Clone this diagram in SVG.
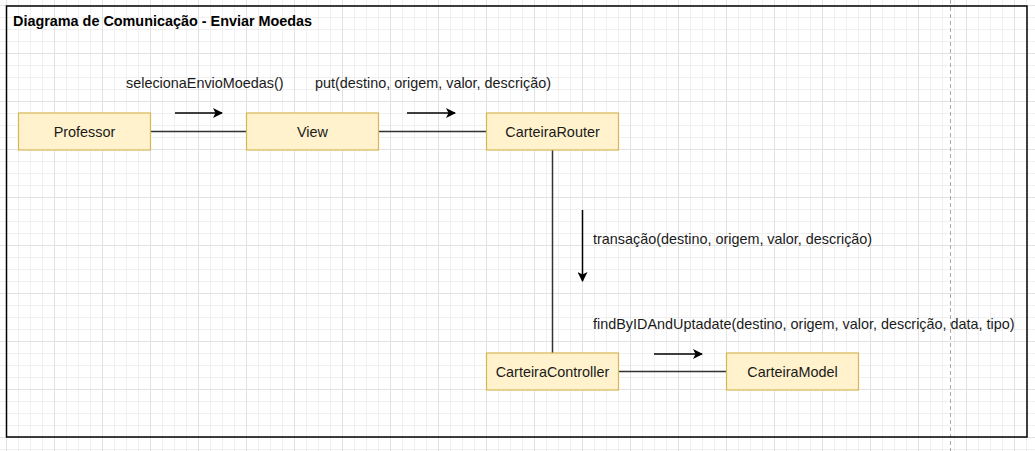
<svg xmlns="http://www.w3.org/2000/svg" width="1035" height="451" viewBox="0 0 1035 451">
<defs>
<pattern id="minor" patternUnits="userSpaceOnUse" x="6" y="5" width="12" height="12">
<path d="M0 0.5H12M0.5 0V12" fill="none" stroke="#f0f0f0" stroke-width="1"/>
</pattern>
<pattern id="major" patternUnits="userSpaceOnUse" x="6" y="5" width="48" height="48">
<path d="M0 0.5H48M0.5 0V48" fill="none" stroke="#e2e2e2" stroke-width="1"/>
</pattern>
<marker id="arr" viewBox="0 0 10 10" refX="9" refY="5" markerWidth="10" markerHeight="10" markerUnits="userSpaceOnUse" orient="auto">
<path d="M0 0L10 5L0 10L2.5 5Z" fill="#000"/>
</marker>
<style>
.node rect{fill:#fff2cc;stroke:#d6b656;stroke-width:1.2}
.node text,.lbl{font-family:"Liberation Sans",Arial,sans-serif;font-size:14.4px;fill:#1a1a1a}
.node text{text-anchor:middle}
.conn line{stroke:#333;stroke-width:1.5}
.msg line{stroke:#000;stroke-width:1.5;marker-end:url(#arr)}
</style>
</defs>
<rect width="1035" height="451" fill="#fff"/>
<rect width="1035" height="451" fill="url(#minor)"/>
<rect width="1035" height="451" fill="url(#major)"/>
<line x1="950.5" y1="0" x2="950.5" y2="451" stroke="#aaa" stroke-width="1" stroke-dasharray="4 3"/>
<g id="frame">
<rect x="6.5" y="6" width="1020.5" height="431" fill="none" stroke="#000" stroke-width="1.5"/>
<text x="13" y="26" font-family="Liberation Sans,Arial,sans-serif" font-size="14.4px" font-weight="bold" fill="#000">Diagrama de Comunicação - Enviar Moedas</text>
</g>
<g id="connectors" class="conn">
<line x1="151" y1="131.5" x2="246" y2="131.5"/>
<line x1="378" y1="131.5" x2="486" y2="131.5"/>
<line x1="552.5" y1="150" x2="552.5" y2="353"/>
<line x1="618" y1="371.5" x2="726" y2="371.5"/>
</g>
<g id="messages" class="msg">
<line x1="175" y1="113" x2="222" y2="113"/>
<line x1="407" y1="113" x2="455" y2="113"/>
<line x1="582.5" y1="210" x2="582.5" y2="281"/>
<line x1="654" y1="354" x2="702" y2="354"/>
</g>
<g id="labels">
<text class="lbl" x="126" y="88">selecionaEnvioMoedas()</text>
<text class="lbl" x="315" y="88">put(destino, origem, valor, descrição)</text>
<text class="lbl" x="593" y="244">transação(destino, origem, valor, descrição)</text>
<text class="lbl" x="593" y="329">findByIDAndUptadate(destino, origem, valor, descrição, data, tipo)</text>
</g>
<g id="professor" class="node"><rect x="18.5" y="113" width="132" height="37"/><text x="84.5" y="136.5">Professor</text></g>
<g id="view" class="node"><rect x="246.5" y="113" width="132" height="37"/><text x="312.5" y="136.5">View</text></g>
<g id="carteiraRouter" class="node"><rect x="486.5" y="113" width="132" height="37"/><text x="552.5" y="136.5">CarteiraRouter</text></g>
<g id="carteiraController" class="node"><rect x="486.5" y="353" width="132" height="37"/><text x="552.5" y="376.5">CarteiraController</text></g>
<g id="carteiraModel" class="node"><rect x="726.5" y="353" width="132" height="37"/><text x="792.5" y="376.5">CarteiraModel</text></g>
</svg>
